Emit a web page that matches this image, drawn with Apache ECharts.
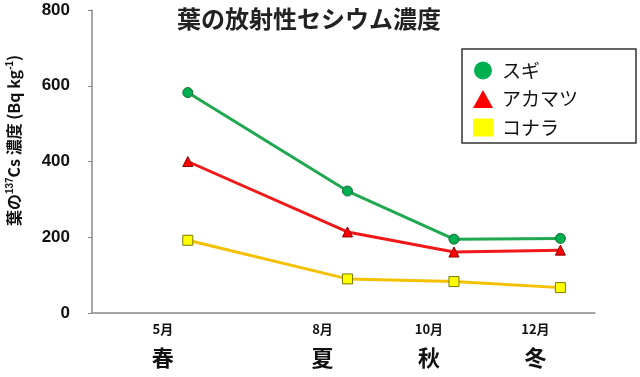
<!DOCTYPE html>
<html><head><meta charset="utf-8">
<script src="https://cdn.jsdelivr.net/npm/echarts@6/dist/echarts.min.js"></script>
<style>html,body{margin:0;padding:0;background:#fff}#c{width:640px;height:377px}</style>
</head><body><div id="c"></div>
<script>
const months = [5, 8, 10, 12];
const monthLabels = ['5月', '8月', '10月', '12月'];
const seasonLabels = ['春', '夏', '秋', '冬'];
const seriesNames = ['スギ', 'アカマツ', 'コナラ'];
const sugi = [582, 322, 195, 197];
const akamatsu = [400, 214, 161, 166];
const konara = [192, 90, 83, 67];
const yTicks = [0, 200, 400, 600, 800];

const JP = '"Noto Sans CJK JP", sans-serif';
const LAT = '"Liberation Sans", Arial, sans-serif';

function pairs(vals){ return months.map((m,i)=>[m, vals[i]]); }

const chart = echarts.init(document.getElementById('c'), null, {renderer:'canvas'});
chart.setOption({
  backgroundColor:'#fff',
  animation:false,
  title:{
    text:'葉の放射性セシウム濃度',
    left:172, top:2,
    textStyle:{fontFamily:JP, fontSize:24, fontWeight:'bold', color:'#222'}
  },
  legend:{
    orient:'vertical',
    left:462, top:49,
    padding:[12, 58, 6, 11],
    borderColor:'#333', borderWidth:1.5,
    itemWidth:20, itemHeight:18, itemGap:9.5,
    textStyle:{fontFamily:JP, fontSize:19, color:'#111', padding:[0,0,0,4]},
    data:[
      {name:seriesNames[0], icon:'circle', itemStyle:{color:'#00B050', borderWidth:0}},
      {name:seriesNames[1], icon:'triangle', itemStyle:{color:'#FF0000', borderWidth:0}},
      {name:seriesNames[2], icon:'rect', itemStyle:{color:'#FFFF00', borderWidth:0}}
    ]
  },
  grid:{left:92, right:45, top:10, bottom:64, outerBoundsMode:'none', containLabel:false},
  xAxis:{
    type:'value', min:3.2, max:12.65,
    axisLine:{show:true, lineStyle:{color:'#888', width:1.5}},
    axisTick:{show:false},
    splitLine:{show:false},
    axisLabel:{
      customValues:months,
      margin:7,
      padding:[0, 50, 0, 0],
      formatter:function(v){
        const i = months.indexOf(v);
        return i < 0 ? '' : '{m|' + monthLabels[i] + '}\n{s|' + seasonLabels[i] + '}';
      },
      rich:{
        m:{fontFamily:JP, fontSize:13, fontWeight:'bold', color:'#111', lineHeight:18},
        s:{fontFamily:JP, fontSize:22, fontWeight:'bold', color:'#111', lineHeight:40}
      }
    }
  },
  yAxis:{
    type:'value', min:yTicks[0], max:yTicks[yTicks.length-1], interval:200,
    axisLine:{show:true, lineStyle:{color:'#888', width:1.5}},
    axisTick:{show:true, length:4, lineStyle:{color:'#888'}},
    splitLine:{show:false},
    axisLabel:{margin:22, fontFamily:LAT, fontSize:17, fontWeight:'bold', color:'#111'},
    name:'葉の{sup|137}Cs 濃度 (Bq kg{sup|-1})',
    nameLocation:'middle', nameGap:69, nameRotate:90,
    nameTextStyle:{
      fontFamily:JP, fontSize:16, fontWeight:'bold', color:'#111',
      padding:[0,0,0,42],
      rich:{sup:{fontFamily:LAT, fontSize:10, fontWeight:'bold', color:'#111', verticalAlign:'top', padding:[0,0,8,0]}}
    }
  },
  series:[
    {name:seriesNames[0], type:'line', data:pairs(sugi), symbol:'circle', symbolSize:10,
     lineStyle:{color:'#1FA84F', width:3}, itemStyle:{color:'#00B050', borderColor:'#1B6B35', borderWidth:1}},
    {name:seriesNames[1], type:'line', data:pairs(akamatsu), symbol:'triangle', symbolSize:10,
     lineStyle:{color:'#F01818', width:3}, itemStyle:{color:'#FF0000', borderColor:'#8B0000', borderWidth:1}},
    {name:seriesNames[2], type:'line', data:pairs(konara), symbol:'rect', symbolSize:10,
     lineStyle:{color:'#F5C000', width:3}, itemStyle:{color:'#FFFF00', borderColor:'#7A7A00', borderWidth:1}, z:1}
  ]
});
</script></body></html>
